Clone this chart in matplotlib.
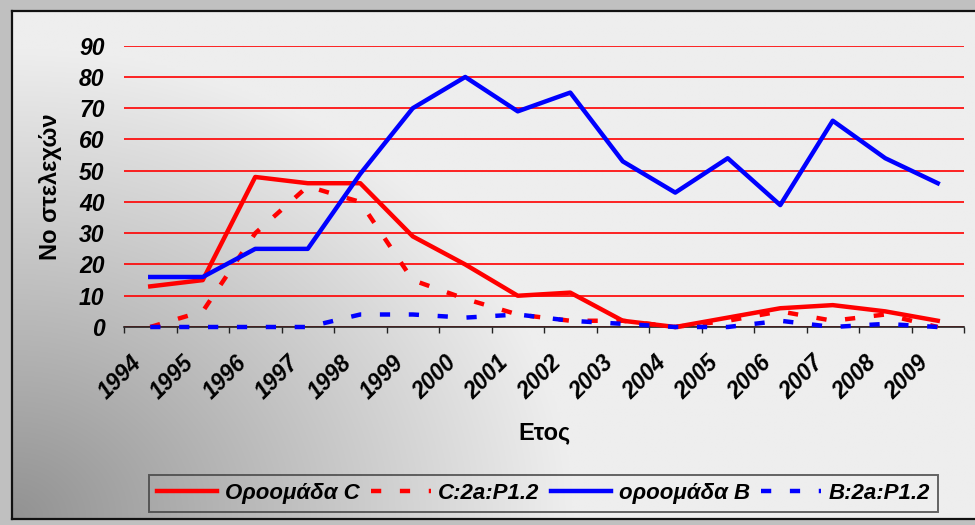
#!/usr/bin/env python3
"""Line chart: Νο στελεχών per year, four series (C / B subgroups)."""
import matplotlib
matplotlib.use("Agg")
import matplotlib.pyplot as plt  # noqa: E402
import matplotlib.transforms as mtrans  # noqa: E402
import numpy as np  # noqa: E402

plt.rcParams["font.family"] = ["Liberation Sans", "DejaVu Sans"]

# ── data ───────────────────────────────────────────────────────────────────────
YEARS = ["1994", "1995", "1996", "1997", "1998", "1999", "2000", "2001",
         "2002", "2003", "2004", "2005", "2006", "2007", "2008", "2009"]
GROUP_C = [13, 15, 48, 46, 46, 29, 20, 10, 11, 2, 0, 3, 6, 7, 5, 2]
C_2A_P12 = [0, 5, 30, 45, 40, 15, 9, 4, 2, 2, 0, 2, 5, 2, 4, 0]
GROUP_B = [16, 16, 25, 25, 49, 70, 80, 69, 75, 53, 43, 54, 39, 66, 54, 46]
B_2A_P12 = [0, 0, 0, 0, 4, 4, 3, 4, 2, 1, 0, 0, 2, 0, 1, 0]
SERIES_LABELS = ["Οροομάδα C", "C:2a:P1.2", "οροομάδα B", "B:2a:P1.2"]
Y_TICKS = list(range(0, 91, 10))

W, H = 975, 525
fig = plt.figure(figsize=(W / 100, H / 100), dpi=100)
fig.patch.set_facecolor("#c0c0c0")

# ── gradient chart-area background (dark in the lower-left corner) ───────────
BG_W, BG_H = W - 12, 508
bg = fig.add_axes([12 / W, 6 / H, BG_W / W, BG_H / H], zorder=0)
px, py = np.meshgrid(np.linspace(0, BG_W, 400), np.linspace(BG_H, 0, 220))
t = np.clip(np.sqrt((px / 560) ** 2 + (py / 470) ** 2), 0, 1)
shade = (146 + 92 * t) / 255.0
bg.imshow(np.dstack([shade, shade, shade]), aspect="auto",
          extent=[0, 1, 0, 1], interpolation="bilinear")
bg.set_xticks([])
bg.set_yticks([])
for side in ("left", "top", "bottom"):
    bg.spines[side].set_color("#111111")
    bg.spines[side].set_linewidth(1.6)
bg.spines["right"].set_visible(False)

# ── main plot ─────────────────────────────────────────────────────────────────
ax = fig.add_axes([124 / W, 198 / H, 840 / W, 281.3 / H], zorder=2)
ax.patch.set_alpha(0)

x = np.arange(len(YEARS)) + 0.5
dash = (2.3, 4.2)
lw = 3.2
l1, = ax.plot(x, GROUP_C, color="#ff0000", lw=lw, clip_on=False,
              label=SERIES_LABELS[0], zorder=3)
l2, = ax.plot(x, C_2A_P12, color="#ff0000", lw=lw, dashes=dash,
              dash_capstyle="butt", clip_on=False, label=SERIES_LABELS[1], zorder=3)
l3, = ax.plot(x, GROUP_B, color="#0000ff", lw=lw, clip_on=False,
              label=SERIES_LABELS[2], zorder=3)
l4, = ax.plot(x, B_2A_P12, color="#0000ff", lw=lw, dashes=dash,
              dash_capstyle="butt", clip_on=False, label=SERIES_LABELS[3], zorder=3)

ax.set_xlim(0, len(YEARS))
ax.set_ylim(0, 90)
ax.set_yticks(Y_TICKS)
ax.yaxis.grid(True, color="#ff0000", lw=1.2)
ax.set_axisbelow(True)
ax.tick_params(axis="y", length=0, pad=14, labelsize=16.5)
for lbl in ax.get_yticklabels():
    lbl.set_fontweight("bold")
    lbl.set_fontstyle("italic")

for side in ("left", "top", "right"):
    ax.spines[side].set_visible(False)
ax.spines["bottom"].set_color("#222222")
ax.spines["bottom"].set_linewidth(1.2)

# tick marks on category boundaries, labels at centers
ax.set_xticks(np.arange(len(YEARS) + 1))
ax.set_xticklabels([])
ax.tick_params(axis="x", which="major", direction="out", length=4,
               width=1, color="#222222")
ax.set_xticks(x, minor=True)
ax.set_xticklabels(YEARS, minor=True, rotation=45, ha="right", va="center",
                   rotation_mode="anchor", fontsize=16.5, fontweight="bold",
                   fontstyle="italic")
ax.tick_params(axis="x", which="minor", length=0, pad=23)
shift = mtrans.ScaledTranslation(-9 / 72, 0, fig.dpi_scale_trans)
for lbl in ax.get_xticklabels(minor=True):
    lbl.set_transform(lbl.get_transform() + shift)

ax.set_ylabel("Νο στελεχών", fontsize=17, fontweight="bold")
ax.yaxis.set_label_coords(-0.088, 0.5)
ax.yaxis.label.set_va("center")
ax.set_xlabel("Ετος", fontsize=17, fontweight="bold")
ax.xaxis.set_label_coords(0.5, -0.377)
ax.xaxis.label.set_va("center")

leg = fig.legend(handles=[l1, l2, l3, l4], loc="center", ncol=4,
                 bbox_to_anchor=(543.5 / W, 1 - 493.5 / H),
                 prop={"size": 16, "weight": "bold", "style": "italic"},
                 handlelength=2.7, handletextpad=0.35, columnspacing=0.5,
                 frameon=True, fancybox=False, borderpad=0.35)
leg.get_frame().set_facecolor("none")
leg.get_frame().set_edgecolor("#404040")
leg.get_frame().set_linewidth(1.4)

fig.savefig("out.png", dpi=100, facecolor=fig.get_facecolor())
